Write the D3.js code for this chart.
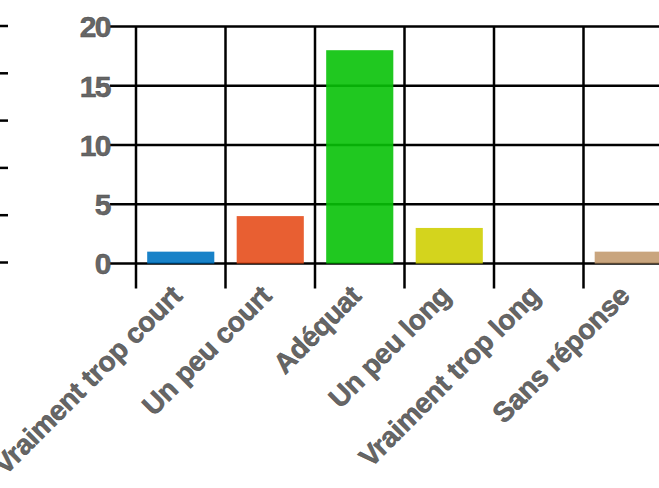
<!DOCTYPE html>
<html>
<head>
<meta charset="utf-8">
<script src="https://cdn.jsdelivr.net/npm/d3@7"></script>
<style>
  html, body { margin: 0; padding: 0; background: #fff; overflow: hidden; }
  svg { display: block; }
  .lbl { font-family: "Liberation Sans", Arial, sans-serif; font-weight: bold; fill: #666; stroke: #4a4a4a; stroke-width: 0.5px; }
</style>
</head>
<body>
<script>
const categories = ["Vraiment trop court", "Un peu court", "Adéquat", "Un peu long", "Vraiment trop long", "Sans réponse"];
const values = [1, 4, 18, 3, 0, 1];
const colors = ["#0074c2", "#e54e1c", "#08c208", "#cfcf04", "#0074c2", "#c39b70"];
const yTicks = [0, 5, 10, 15, 20];
const strayTicks = [0, 1, 2, 3, 4, 5];

const W = 659, H = 488;
const svg = d3.select("body").append("svg").attr("width", W).attr("height", H);

const y = d3.scaleLinear().domain([0, 20]).range([263.5, 26.5]);
const x = d3.scaleBand().domain(categories).range([136, 673]).paddingInner(0.25).paddingOuter(0.125);
const yStray = d3.scaleLinear().domain([0, 5]).range([262.5, 26]);

// stray ticks at the left edge (remnant of a neighbouring axis)
svg.append("g").selectAll("line").data(strayTicks).join("line")
  .attr("x1", 0).attr("x2", 8)
  .attr("y1", d => yStray(d)).attr("y2", d => yStray(d))
  .attr("stroke", "#000").attr("stroke-width", 2.5);

// horizontal grid lines
svg.append("g").selectAll("line").data(yTicks).join("line")
  .attr("x1", 110).attr("x2", W)
  .attr("y1", d => y(d)).attr("y2", d => y(d))
  .attr("stroke", "#000").attr("stroke-width", 2.5);

// vertical lines at band boundaries
const off = x.step() * x.paddingOuter();
svg.append("g").selectAll("line").data(categories).join("line")
  .attr("x1", d => x(d) - off).attr("x2", d => x(d) - off)
  .attr("y1", y(20)).attr("y2", y(0) + 25)
  .attr("stroke", "#000").attr("stroke-width", 2.5);

// bars
svg.append("g").selectAll("rect").data(categories).join("rect")
  .attr("x", d => x(d))
  .attr("width", x.bandwidth())
  .attr("y", (d, i) => y(values[i]))
  .attr("height", (d, i) => y(0) - y(values[i]))
  .attr("fill", (d, i) => colors[i])
  .attr("fill-opacity", 0.9);

// y labels
svg.append("g").selectAll("text").data(yTicks).join("text")
  .attr("class", "lbl")
  .attr("x", 110).attr("y", d => y(d))
  .attr("dy", "0.36em")
  .attr("text-anchor", "end")
  .attr("font-size", 30)
  .attr("letter-spacing", -1.5)
  .text(d => d);

// x labels
svg.append("g").selectAll("text").data(categories).join("text")
  .attr("class", "lbl")
  .attr("text-anchor", "end")
  .attr("font-size", 28)
  .attr("letter-spacing", -0.3)
  .attr("transform", d => `translate(${x(d) + x.bandwidth() / 2 + 3},${y(0) + 34}) rotate(-45)`)
  .text(d => d);
</script>
</body>
</html>
